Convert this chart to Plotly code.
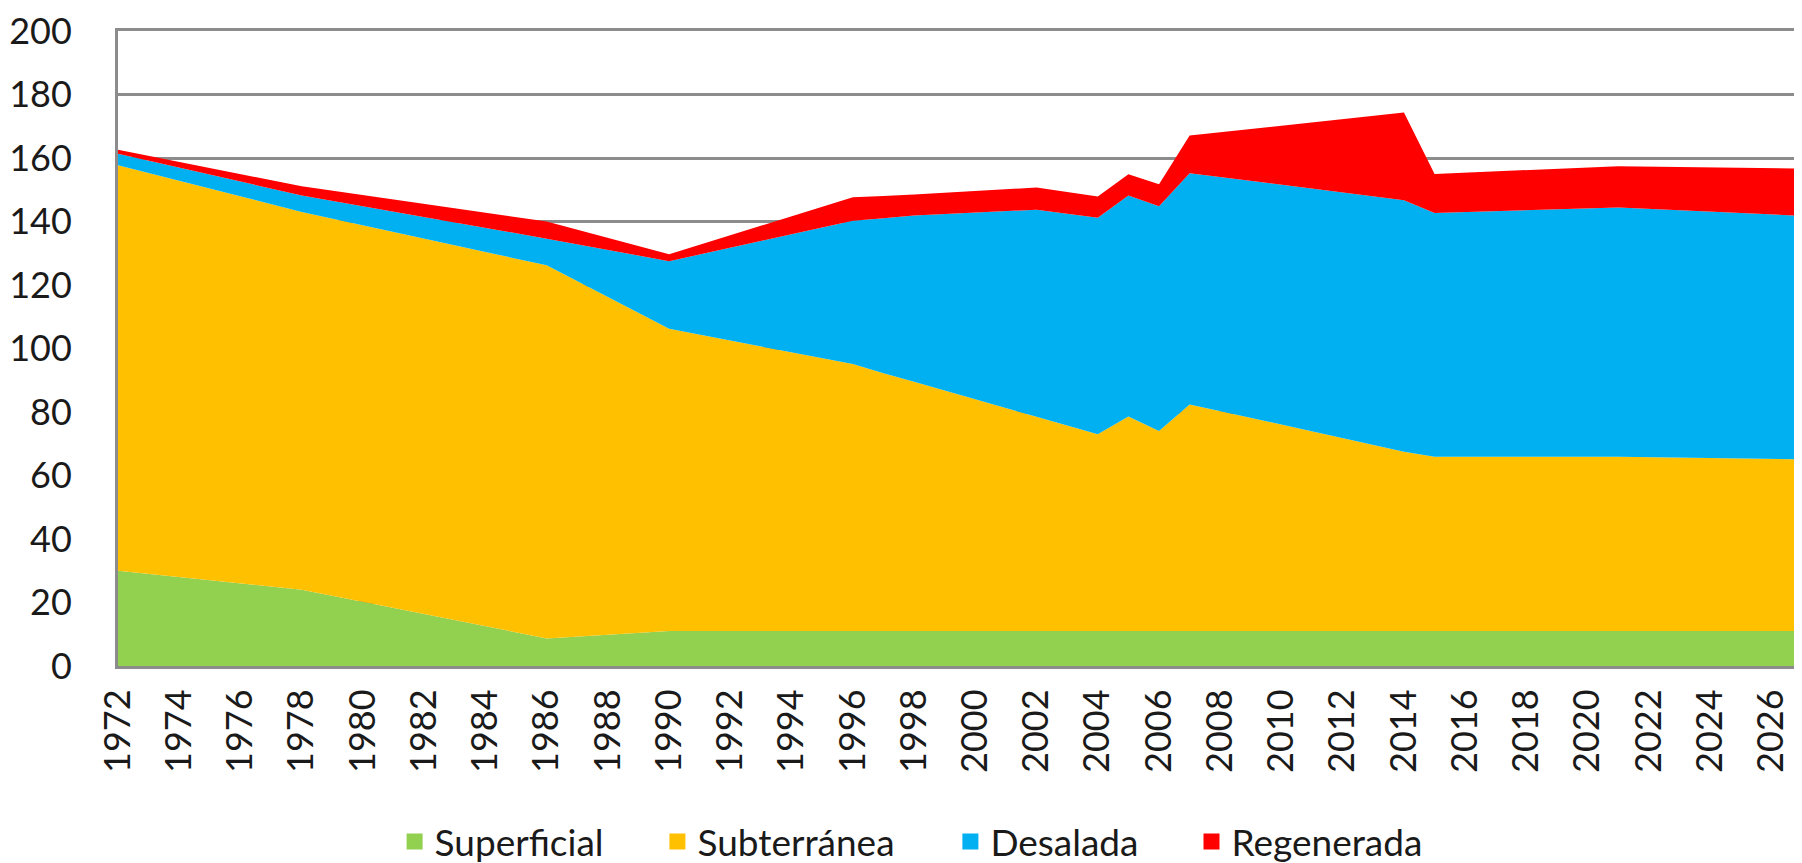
import plotly.graph_objects as go

years = [1972, 1978, 1986, 1990, 1996, 1997, 1998, 2002, 2004, 2005, 2006, 2007, 2014, 2015, 2021, 2027]
superficial = [30, 24, 8.7, 11, 11, 11, 11, 11, 11, 11, 11, 11, 11, 11, 11, 11]
subterranea = [127.7, 119, 117.5, 95.2, 84.1, 81.2, 78.5, 67.5, 62.0, 67.6, 63.0, 71.4, 56.5, 54.9, 54.9, 54.1]
desalada = [3.6, 5.2, 8.4, 21.3, 45.1, 48.8, 52.4, 65.2, 68.2, 69.6, 70.8, 72.8, 79.2, 76.8, 78.5, 76.7]
regenerada = [1.3, 2.9, 5.4, 2.2, 7.4, 7.0, 6.6, 7.0, 6.7, 6.7, 6.9, 11.9, 27.6, 12.3, 13.0, 14.9]

series_names = ["Superficial", "Subterránea", "Desalada", "Regenerada"]
series_vals = [superficial, subterranea, desalada, regenerada]
colors = ["#92D050", "#FFC000", "#00B0F0", "#FF0000"]

x_ticks = list(range(1972, 2027, 2))
y_ticks = list(range(0, 201, 20))

# legend anchor positions (fraction of the whole figure width) for each entry
legend_x = [0.2155, 0.3620, 0.5253, 0.6597]
legend_ids = ["legend", "legend2", "legend3", "legend4"]

fig = go.Figure()
for name, vals, c in zip(series_names, series_vals, colors):
    fig.add_trace(go.Scatter(
        x=years, y=vals, name=name, stackgroup="one", mode="none",
        fillcolor=c, line=dict(width=0), showlegend=False,
    ))
# legend entries as square swatches, each in its own legend box
for name, c, lid in zip(series_names, colors, legend_ids):
    fig.add_trace(go.Scatter(
        x=[None], y=[None], name=name, mode="markers",
        marker=dict(symbol="square", size=22, color=c), legend=lid,
    ))

font_family = "Lato, 'Open Sans', sans-serif"
layout_legends = {}
for lid, lx in zip(legend_ids, legend_x):
    layout_legends[lid] = dict(
        orientation="h", xref="container", yref="container",
        x=lx, xanchor="left", y=0.0246, yanchor="middle",
        font=dict(size=37, color="#1a1a1a"), bgcolor="rgba(0,0,0,0)",
        itemwidth=30,
    )

# page body has an 8px default margin, so the figure is sized to fit the window
fig.update_layout(
    width=1794, height=855,
    margin=dict(l=110, r=0, t=23, b=197, autoexpand=False),
    paper_bgcolor="white", plot_bgcolor="white",
    font=dict(family=font_family, size=36, color="#1a1a1a"),
    showlegend=True,
    **layout_legends,
)
fig.update_xaxes(
    range=[1972, 2027], tickvals=x_ticks, ticktext=[str(v) for v in x_ticks],
    tickangle=-90, showgrid=False, showline=True, linecolor="#8c8c8c", linewidth=3,
    mirror=True, ticks="", zeroline=False, tickfont=dict(size=36),
    ticklabelstandoff=6, automargin=False, ticklabeloverflow="allow",
)
fig.update_yaxes(
    range=[0, 200], tickvals=y_ticks, showgrid=True, gridcolor="#8c8c8c", gridwidth=3,
    showline=True, linecolor="#8c8c8c", linewidth=3, zeroline=False, ticks="",
    ticklabelstandoff=36, tickfont=dict(size=36), automargin=False,
    ticklabeloverflow="allow",
)
fig.write_html("out.html")
